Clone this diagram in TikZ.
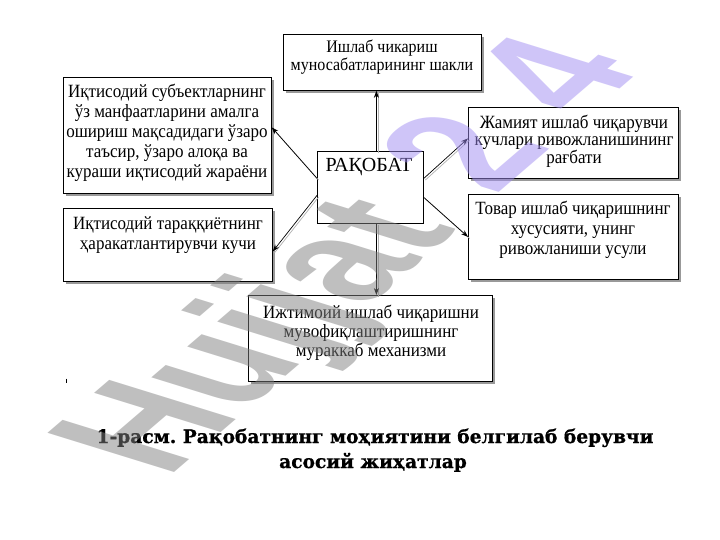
\documentclass[tikz,border=0pt]{standalone}
\usepackage{fontspec}
\setmainfont{Liberation Serif}
\newfontfamily\capfont[BoldFeatures={FakeBold=0.9}]{DejaVu Serif}
\newfontfamily\wmfont{Liberation Sans}
\usetikzlibrary{shadows,arrows.meta}
\definecolor{wmgray}{RGB}{128,128,128}
\definecolor{wmpurple}{RGB}{160,140,242}
\begin{document}
\frenchspacing
\begin{tikzpicture}[x=1pt,y=-1pt,
  box/.style={draw=black, line width=0.8pt, fill=white, inner sep=0pt, anchor=north west,
    drop shadow={shadow xshift=3pt, shadow yshift=-3pt, opacity=1, fill=black!40}},
  cbox/.style={draw=black, line width=0.8pt, fill=white, inner sep=0pt, anchor=north west},
  txt/.style={inner sep=0pt, anchor=north, align=center, yscale=1.1, font=\fontsize{17}{18.2}\selectfont},
  conn/.style={-{Stealth[length=7pt,width=5pt]}, line width=0.7pt},
  connsh/.style={draw=black!30, line width=0.7pt, transform canvas={xshift=1.6pt, yshift=-1.6pt}},
  wmtxt/.style={inner sep=0pt, anchor=base west, opacity=0.5,
    font=\wmfont\bfseries\fontsize{136}{136}\selectfont},
  captxt/.style={inner sep=0pt, anchor=base, font=\capfont\bfseries\fontsize{18.6}{22}\selectfont}]
\useasboundingbox (0,0) rectangle (720,540);
\fill[white] (0,0) rectangle (720,540);
% boxes
\node[box, minimum width=198pt, minimum height=56pt] (top) at (283,34) {};
\node[box, minimum width=208pt, minimum height=116pt] (l1) at (63,77) {};
\node[box, minimum width=210pt, minimum height=71pt] (r1) at (468,107) {};
\node[box, minimum width=209pt, minimum height=73pt] (l2) at (63,208) {};
\node[box, minimum width=210pt, minimum height=85pt] (r2) at (468,194) {};
\node[box, minimum width=244pt, minimum height=86pt] (bot) at (248,295) {};
\node[cbox, minimum width=106pt, minimum height=72pt] (c) at (317,151) {};
% texts
\node[txt, font=\fontsize{16}{16.4}\selectfont] (topt) at (382,39.5) {Ишлаб чикариш\\муносабатларининг шакли};
\node[txt] (l1t) at (167,83.5) {Иқтисодий субъектларнинг\\ўз манфаатларини амалга\\ошириш мақсадидаги ўзаро\\таъсир, ўзаро алоқа ва\\кураши иқтисодий жараёни};
\node[txt, font=\fontsize{17}{16}\selectfont] (r1t) at (574,114.5) {Жамият ишлаб чиқарувчи\\кучлари ривожланишининг\\рағбати};
\node[txt] (l2t) at (168,216) {Иқтисодий тараққиётнинг\\ҳаракатлантирувчи кучи};
\node[txt] (r2t) at (573,201) {Товар ишлаб чиқаришнинг\\хусусияти, унинг\\ривожланиши усули};
\node[txt, font=\fontsize{17}{17.3}\selectfont] (bott) at (371,304.5) {Ижтимоий ишлаб чиқаришни\\мувофиқлаштиришнинг\\мураккаб механизми};
\node[txt, yscale=1/1.1, font=\fontsize{20}{22}\selectfont] (ct) at (369,158.4) {РАҚОБАТ};
% connector end points
\coordinate (cT) at ([xshift=6pt]c.north);
\coordinate (topB) at ([xshift=-6pt]top.south);
\coordinate (cB) at ([xshift=6pt]c.south);
\coordinate (botT) at ([xshift=6pt]bot.north);
\coordinate (cW1) at ([yshift=9pt]c.west);
\coordinate (cW2) at ([yshift=-8pt]c.west);
\coordinate (cE1) at ([yshift=9pt]c.east);
\coordinate (cE2) at ([yshift=-10pt]c.east);
\coordinate (l1E) at ([yshift=8pt]l1.east);
\coordinate (l2E) at ([yshift=-6.5pt]l2.east);
\coordinate (r1W) at ([yshift=4.5pt]r1.west);
\coordinate (r2W) at (r2.west);
% connector shadows
\draw[connsh] (cT) -- (topB);
\draw[connsh] (cB) -- (botT);
\draw[connsh] (cW1) -- (l1E);
\draw[connsh] (cW2) -- (l2E);
\draw[connsh] (cE1) -- (r1W);
\draw[connsh] (cE2) -- (r2W);
% connectors
\draw[conn] (cT) -- (topB);
\draw[conn] (cB) -- (botT);
\draw[conn] (cW1) -- (l1E);
\draw[conn] (cW2) -- (l2E);
\draw[conn] (cE1) -- (r1W);
\draw[conn] (cE2) -- (r2W);
% small mark
\draw[line width=0.8pt] (66,378.5) -- (66,383);
% caption
\node[captxt] (cap1) at (375,443) {1-расм. Рақобатнинг моҳиятини белгилаб берувчи};
\node[captxt] (cap2) at (373,468) {асосий жиҳатлар};
% watermark
\node[wmtxt, cm={0.772,0.662,-1.353,0.419,(167,479)}] (wm1) at (0,0) {\textcolor{wmgray}{Hujjat}};
\node[wmtxt, cm={0.772,0.662,-1.353,0.419,(495,196)}] (wm2) at (0,0) {\textcolor{wmpurple}{2\kern0.3em 4}};
\end{tikzpicture}
\end{document}
